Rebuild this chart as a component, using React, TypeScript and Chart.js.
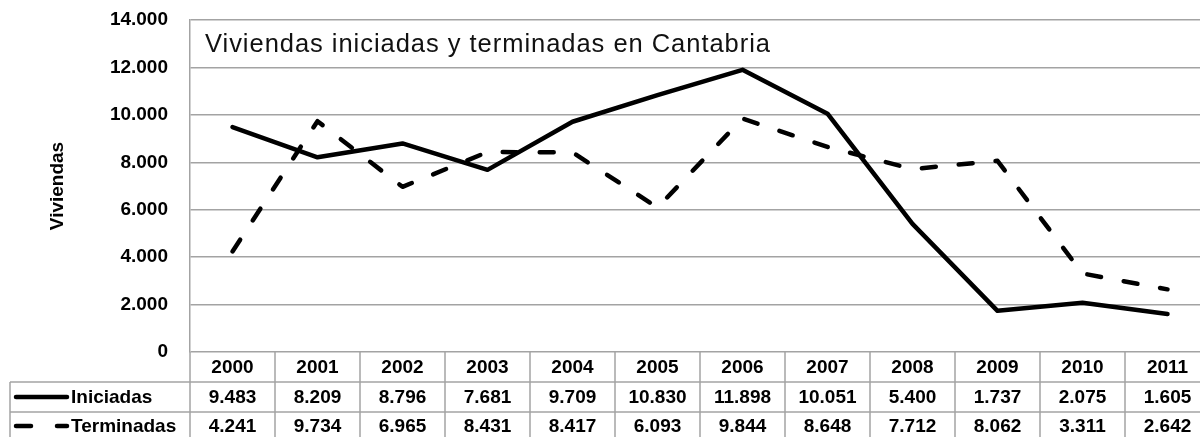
import React, { useEffect, useRef } from 'react';
import { Chart, registerables } from 'chart.js';

Chart.register(...registerables);

const years = ['2000', '2001', '2002', '2003', '2004', '2005', '2006', '2007', '2008', '2009', '2010', '2011'];
const iniciadas = [9483, 8209, 8796, 7681, 9709, 10830, 11898, 10051, 5400, 1737, 2075, 1605];
const terminadas = [4241, 9734, 6965, 8431, 8417, 6093, 9844, 8648, 7712, 8062, 3311, 2642];
const seriesNames = ['Iniciadas', 'Terminadas'];
const yTickValues = [0, 2000, 4000, 6000, 8000, 10000, 12000, 14000];
const chartTitle = 'Viviendas iniciadas y terminadas en Cantabria';
const yTitle = 'Viviendas';

const FONT = '"Liberation Sans", Arial, sans-serif';
const GRID = '#a3a3a3';

const fmt = (v: number) => String(v).replace(/\B(?=(\d{3})+(?!\d))/g, '.');

const overlayPlugin = {
  id: 'overlay',
  afterDraw(chart: any) {
    const { ctx, chartArea, scales } = chart;
    const { left, right, bottom } = chartArea;
    const x = scales.x;
    const H = chart.height;
    const r1 = bottom + 30;
    const r2 = bottom + 60;
    const line = (x1: number, y1: number, x2: number, y2: number) => {
      ctx.beginPath();
      ctx.moveTo(x1, y1);
      ctx.lineTo(x2, y2);
      ctx.stroke();
    };
    ctx.save();
    // table grid
    ctx.strokeStyle = GRID;
    ctx.lineWidth = 1.5;
    line(10, r1, right, r1);
    line(10, r2, right, r2);
    line(left, bottom, left, H);
    line(10, r1, 10, H);
    const half = (x.getPixelForValue(1) - x.getPixelForValue(0)) / 2;
    chart.data.labels.forEach((_: any, i: number) => {
      const cx = x.getPixelForValue(i);
      line(cx + half, bottom, cx + half, H);
    });
    // table text
    ctx.fillStyle = '#000';
    ctx.font = `bold 19px ${FONT}`;
    ctx.textAlign = 'center';
    ctx.textBaseline = 'middle';
    const ds = chart.data.datasets;
    chart.data.labels.forEach((lab: string, i: number) => {
      const cx = x.getPixelForValue(i);
      ctx.fillText(lab, cx, bottom + 16);
      ctx.fillText(fmt(ds[0].data[i]), cx, r1 + 15.5);
      ctx.fillText(fmt(ds[1].data[i]), cx, r2 + 14.5);
    });
    // legend keys
    ctx.textAlign = 'left';
    ctx.fillText(ds[0].label, 71, r1 + 15.5);
    ctx.fillText(ds[1].label, 71, r2 + 14.5);
    ctx.strokeStyle = '#000';
    ctx.lineWidth = 4.5;
    ctx.lineCap = 'round';
    line(16, r1 + 15, 67, r1 + 15);
    line(16, r2 + 14, 31, r2 + 14);
    line(57, r2 + 14, 67, r2 + 14);
    // y title
    ctx.save();
    ctx.translate(58, 186);
    ctx.rotate(-Math.PI / 2);
    ctx.textAlign = 'center';
    ctx.textBaseline = 'middle';
    ctx.font = `bold 19px ${FONT}`;
    ctx.fillText(yTitle, 0, 0);
    ctx.restore();
    // chart title
    ctx.font = `25.5px ${FONT}`;
    ctx.fillStyle = '#111';
    ctx.textAlign = 'left';
    ctx.textBaseline = 'alphabetic';
    const w = ctx.measureText(chartTitle).width;
    const sp = Math.max(0, (565 - w) / (chartTitle.length - 1));
    (ctx as any).letterSpacing = `${sp}px`;
    ctx.fillText(chartTitle, 205, 52);
    (ctx as any).letterSpacing = '0px';
    ctx.restore();
  },
};

export default function App() {
  const ref = useRef<HTMLCanvasElement | null>(null);
  useEffect(() => {
    if (!ref.current) return;
    const chart = new Chart(ref.current, {
      type: 'line',
      data: {
        labels: years,
        datasets: [
          {
            label: seriesNames[0],
            data: iniciadas,
            borderColor: '#000',
            borderWidth: 4.5,
            pointRadius: 0,
            tension: 0,
            borderCapStyle: 'round',
            borderJoinStyle: 'round',
          },
          {
            label: seriesNames[1],
            data: terminadas,
            borderColor: '#000',
            borderWidth: 4.5,
            borderDash: [14, 23],
            pointRadius: 0,
            tension: 0,
            borderCapStyle: 'round',
            borderJoinStyle: 'round',
          },
        ],
      },
      options: {
        responsive: false,
        animation: false,
        layout: { padding: { left: 0, right: 0, top: 20, bottom: 85 } },
        plugins: { legend: { display: false }, title: { display: false }, tooltip: { enabled: false } },
        scales: {
          x: { type: 'category', offset: true, display: false },
          y: {
            min: 0,
            max: 14000,
            afterFit: (s: any) => {
              s.width = 190;
              s.paddingTop = 0;
              s.paddingBottom = 0;
            },
            afterBuildTicks: (s: any) => { s.ticks = yTickValues.map((v) => ({ value: v })); },
            ticks: {
              color: '#000',
              font: { family: FONT, size: 19, weight: 'bold' },
              padding: 22,
              callback: (v: any) => fmt(Number(v)),
            },
            grid: { color: GRID, lineWidth: 1.5, drawTicks: false },
            border: { display: true, color: GRID, width: 1.5 },
          },
        },
      },
      plugins: [overlayPlugin],
    });
    return () => chart.destroy();
  }, []);
  return (
    <div style={{ position: 'absolute', left: 0, top: 0, width: 1200, height: 437, overflow: 'hidden', background: '#fff' }}>
      <canvas ref={ref} width={1210} height={437} style={{ display: 'block' }} />
    </div>
  );
}
